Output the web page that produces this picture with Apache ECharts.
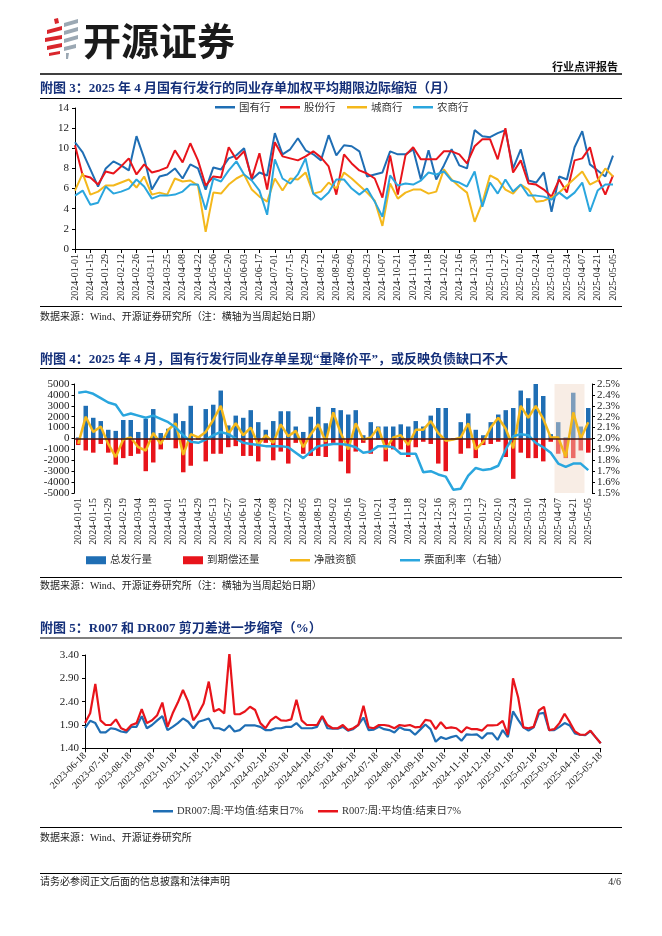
<!DOCTYPE html>
<html lang="zh-CN">
<head>
<meta charset="utf-8">
<title>chart</title>
<script src="https://cdn.jsdelivr.net/npm/echarts@6.0.0/dist/echarts.min.js"></script>
<style>
html,body{margin:0;padding:0;background:#ffffff;}
#main{width:662px;height:936px;}
</style>
</head>
<body>
<div id="main"></div>
<script>
// ================= DATA =================
// Chart 3 (附图3) weekly, start dates 2024-01-01 .. 2025-05-05
const c3Start = '2024-01-01';
const c3Count = 71;
const c3Names = ['国有行', '股份行', '城商行', '农商行'];
const c3Guoyou = [10.6,9.6,7.9,6.2,8.0,8.7,8.3,7.8,11.2,9.0, 5.9,7.2,7.4,8.0,7.0,8.4,8.0,5.9,8.1,7.9, 9.0,9.3,10.0,6.9,7.6,7.3,11.5,9.4,9.9,11.0, 9.8,9.4,8.8,11.3,9.3,10.3,10.2,9.7,7.2,7.4, 7.6,9.7,9.4,9.4,9.9,6.9,9.8,6.9,8.3,9.9, 8.3,8.0,11.8,11.2,11.1,11.5,11.8,8.0,9.9,6.8, 6.6,7.6,3.7,7.2,6.9,10.1,11.70,8.4,7.8,7.2, 9.28];
const c3Gufen = [10.3,7.3,7.1,6.4,7.7,7.5,8.2,9.0,7.4,8.4, 7.6,7.8,8.1,9.8,8.6,10.5,8.8,6.3,7.2,7.1, 10.1,8.9,9.7,7.0,9.5,5.9,10.6,9.2,9.0,8.8, 9.2,9.7,9.1,8.2,5.4,9.4,8.5,7.8,7.5,7.0, 5.1,9.3,5.4,9.3,10.1,8.9,8.9,8.9,9.7,9.7, 9.4,8.5,10.2,10.9,10.9,8.9,12.0,7.6,8.8,6.5, 6.4,5.9,5.2,6.9,5.6,8.8,9.0,10.1,7.1,5.4, 7.3];
const c3Chengshang = [5.8,7.5,5.4,5.7,6.3,6.3,6.6,6.9,6.1,7.2, 5.4,5.6,5.4,7.0,6.7,6.8,6.3,1.7,5.6,5.5, 6.4,7.0,7.4,5.9,5.2,4.7,7.0,5.8,7.0,6.9, 7.6,5.5,5.7,6.6,6.0,7.6,7.0,6.3,5.6,4.8, 2.3,6.5,5.0,5.6,5.9,5.9,5.5,5.7,7.9,6.9, 6.2,5.6,2.7,4.6,7.3,6.9,5.9,5.5,6.4,5.9, 4.7,4.8,5.1,5.6,6.3,7.0,7.7,6.4,6.8,8.0, 7.2];
const c3Nongshang = [5.3,5.8,4.4,4.6,6.2,5.5,5.7,6.0,6.9,6.2, 5.0,5.3,5.3,5.4,5.7,6.4,6.4,3.9,7.0,6.7, 7.8,8.7,7.4,6.8,5.8,3.4,8.9,7.0,6.5,7.4, 9.0,5.5,4.9,5.6,6.9,6.9,6.0,5.4,6.0,4.7, 3.2,7.3,6.3,6.5,6.4,6.8,7.6,7.4,7.7,6.8, 6.6,6.2,7.7,4.2,6.6,5.5,6.9,5.7,6.4,5.3, 5.3,5.2,4.9,5.6,5.0,5.6,6.6,3.7,5.8,6.4, 6.4];
const c3LabelIdx = [66, 70];

// Chart 4 (附图4) weekly, holiday weeks missing
const c4Start = '2024-01-01';
const c4Count = 69;
const c4Skip = ['2024-02-12', '2024-09-30'];
const c4Names = ['总发行量', '到期偿还量', '净融资额', '票面利率（右轴）'];
const c4Issue = [100,3000,1900,1600,800,700,1700,1700,600,1800, 2700,500,900,2300,1600,3000,200,2700,3100,4400, 1200,2100,1900,2600,1500,800,1600,2500,2500,1100, 600,2000,2900,1400,2800,2600,2200,2600,300,1500, 1100,1100,1100,1300,1100,1600,1100,2100,2800,2800, 0,1500,2300,800,300,1500,2200,2600,2800,4400, 3700,5000,3900,400,1500,100,4200,1100,2800];
const c4Mature = [-600,-1100,-1300,-500,-1300,-2400,-1800,-1600,-1400,-3000, -2200,-1000,-100,-900,-3100,-2500,-100,-2100,-1400,-1400, -800,-700,-1600,-1600,-2100,-400,-2000,-1200,-2300,-400, -1400,-1600,-1600,-1700,-400,-2100,-3200,-1200,-400,-1400, -100,-2100,-1000,-1000,-1700,-800,-300,-500,-2300,-3000, -100,-1400,-900,-1800,-600,-500,-300,-1700,-3700,-1300, -1800,-1800,-2100,-300,-1400,-1800,-1800,-1100,-1300];
const c4Net = [-500,2000,600,1100,-500,-1700,-100,100,-800,-1100, 500,-500,800,1400,-1500,400,100,600,1700,3000, 400,1400,300,1000,-600,300,-400,1300,200,700, -800,400,1300,-300,2400,500,-1000,1400,-100,100, 1000,-1000,100,300,-600,800,800,1600,500,-200, -100,100,1400,-1000,-300,1000,1900,900,-900,3000, 1900,3000,1800,100,100,-1700,2400,0,1500];
const c4Rate = [2.42,2.43,2.41,2.37,2.33,2.31,2.21,2.23,2.21,2.19, 2.21,2.18,2.15,2.10,2.03,1.97,1.96,1.99,2.03,2.06, 2.04,2.00,1.96,1.95,1.94,1.93,1.93,1.93,1.92,1.87, 1.82,1.88,1.93,1.94,1.95,1.95,1.94,1.92,1.87,1.88, 1.93,1.93,1.92,1.86,1.86,1.86,1.69,1.70,1.67,1.65, 1.53,1.54,1.66,1.73,1.71,1.72,1.75,1.90,2.02,2.04, 2.03,1.96,1.92,1.87,1.77,1.74,1.77,1.77,1.71];
const c4ShadeFrom = 64, c4ShadeTo = 68; // category band edges (2025-03-31 .. 2025-04-21)

// Chart 5 (附图5) weekly from 2023-06-18 to 2025-05-18
const c5Start = '2023-06-18';
const c5Months = 23;
const c5Names = ['DR007:周:平均值:结束日7%', 'R007:周:平均值:结束日7%'];
const c5DR = [1.83,1.99,1.94,1.74,1.74,1.83,1.81,1.76,1.74,1.86, 1.86,2.09,1.83,1.90,2.00,2.09,1.79,1.86,1.94,2.04, 1.97,1.83,1.97,2.00,2.04,1.83,1.83,1.78,1.89,1.76, 1.79,1.89,1.89,1.89,1.86,1.79,1.79,1.83,1.83,1.86, 1.86,1.94,1.83,1.83,1.83,1.86,2.08,1.83,1.82,1.82, 1.86,1.78, 1.81,1.90,2.06,1.79,1.80,1.86,1.81,1.79,1.74,1.85, 1.80,1.79,1.69,1.80,1.91,1.81,1.54,1.64,1.60,1.64, 1.67,1.56,1.70,1.69,1.70,1.61,1.72,1.72,1.58,1.79, 1.64,2.19,2.01,1.85,1.78,1.85,2.14,2.16,1.79,1.79, 1.86,1.94,1.89,1.72,1.69,1.68,1.77,1.64,1.51];
const c5R = [1.94,2.15,2.78,2.00,1.90,1.90,2.02,1.83,1.78,1.90, 1.94,2.24,1.94,2.00,2.11,2.38,1.86,2.15,2.38,2.65, 2.40,2.00,2.15,2.36,2.83,2.19,2.24,2.15,3.44,2.13, 2.13,2.19,2.29,2.22,1.94,1.83,2.00,2.08,2.00,1.99, 2.02,2.44,2.00,1.90,1.90,1.90,2.09,1.90,1.83,1.83, 1.90,1.79, 1.83,1.90,2.31,1.85,1.83,1.90,1.90,1.88,1.83,1.90, 1.88,1.90,1.85,1.86,2.01,1.99,1.81,1.96,1.83,1.85, 1.83,1.74,1.85,1.81,1.81,1.78,1.89,1.89,1.90,1.99, 1.69,2.90,2.49,1.85,1.83,1.86,2.21,2.29,1.79,1.81, 1.94,2.14,1.96,1.76,1.69,1.69,1.78,1.64,1.51];

// ================= HELPERS =================
const DAY = 86400000;
function fmt(t) {
  const d = new Date(t);
  return d.getUTCFullYear() + '-' + String(d.getUTCMonth() + 1).padStart(2, '0') + '-' + String(d.getUTCDate()).padStart(2, '0');
}
function weekly(start, n, skip) {
  const out = []; let t = Date.parse(start + 'T00:00:00Z');
  while (out.length < n) { const s = fmt(t); if (!skip.includes(s)) out.push(s); t += 7 * DAY; }
  return out;
}
const c3Dates = weekly(c3Start, c3Count, []);
const c4Dates = weekly(c4Start, c4Count, c4Skip);
const c5T0 = Date.parse(c5Start + 'T00:00:00Z');
const c5Dates = weekly(c5Start, c5DR.length, []);
const c5X = c5Dates.map(s => (Date.parse(s + 'T00:00:00Z') - c5T0) / DAY);
const c5MonthTicks = [];
for (let m = 0; m <= c5Months; m++) c5MonthTicks.push((Date.UTC(2023, 5 + m, 18) - c5T0) / DAY);

const SERIF = '"Liberation Serif","Times New Roman","Noto Sans CJK SC",serif';
const CJK = '"Noto Sans CJK SC",sans-serif';
const TITLE_FONT = 'bold 13px "Liberation Serif","Noto Sans CJK SC",serif';
const NAVY = '#15307a';

const BLUE = '#1F6EB4', RED = '#E8141B', YEL = '#F4B81C', LBLUE = '#2AA6DE';

// ================= GRAPHICS (page furniture) =================
function poly(pts, fill) { return { type: 'polygon', shape: { points: pts }, style: { fill: fill }, silent: true }; }
function hline(y, x1, x2, w) { return { type: 'line', shape: { x1: x1, y1: y, x2: x2, y2: y }, style: { stroke: '#000', lineWidth: w || 1 }, silent: true }; }
function txt(x, y, s, font, fill, align) {
  return { type: 'text', x: x, y: y, silent: true, style: { text: s, font: font, fill: fill || '#222', align: align || 'left', verticalAlign: 'middle', textAlign: align || 'left', textVerticalAlign: 'middle' } };
}
const graphics = [
  // logo icon
  poly([[54,19],[58,18],[59,23],[55,24]], '#D9262C'),
  poly([[47,30],[62,26],[62,30],[47,34]], '#D9262C'),
  poly([[45,38],[62,35],[62,39],[45,42]], '#D9262C'),
  poly([[47,46],[62,43],[62,47],[47,50]], '#D9262C'),
  poly([[49,53],[60,51],[60,54],[49,56]], '#D9262C'),
  poly([[64,23],[78,19],[78,23],[64,27]], '#9BA8B3'),
  poly([[64,31],[78,27],[78,31],[64,35]], '#9BA8B3'),
  poly([[64,39],[78,35],[78,39],[64,43]], '#9BA8B3'),
  poly([[64,47],[76,44],[76,48],[64,51]], '#9BA8B3'),
  poly([[66,53],[69,53],[68,59],[66,59]], '#9BA8B3'),
  txt(83, 41, '开源证券', 'bold 38px "Noto Sans CJK SC",sans-serif', '#1a1a1a'),
  txt(618, 67, '行业点评报告', 'bold 11px "Noto Sans CJK SC",sans-serif', '#111', 'right'),
  hline(74, 40, 622, 1.5),
  // chart 3 titles
  txt(40, 89, '附图 3：2025 年 4 月国有行发行的同业存单加权平均期限边际缩短（月）', TITLE_FONT, NAVY),
  hline(98.5, 40, 622, 1.2),
  hline(306.5, 40, 622, 1.2),
  txt(40, 317, '数据来源：Wind、开源证券研究所（注：横轴为当周起始日期）', '10px ' + SERIF, '#222'),
  // chart 4 titles
  txt(40, 360, '附图 4：2025 年 4 月，国有行发行同业存单呈现“量降价平”，或反映负债缺口不大', TITLE_FONT, NAVY),
  hline(368.5, 40, 622, 1.2),
  hline(577.5, 40, 622, 1.2),
  txt(40, 586, '数据来源：Wind、开源证券研究所（注：横轴为当周起始日期）', '10px ' + SERIF, '#222'),
  // chart 5 titles
  txt(40, 629, '附图 5：R007 和 DR007 剪刀差进一步缩窄（%）', TITLE_FONT, NAVY),
  hline(638, 40, 622, 1.2),
  hline(827.5, 40, 622, 1.2),
  txt(40, 838, '数据来源：Wind、开源证券研究所', '10px ' + SERIF, '#222'),
  // footer
  hline(873.5, 40, 622, 1.2),
  txt(40, 882, '请务必参阅正文后面的信息披露和法律声明', '10px ' + SERIF, '#222'),
  txt(621, 882, '4/6', '10px ' + SERIF, '#222', 'right')
];

// ================= OPTION =================
const axisLineBlack = { show: true, lineStyle: { color: '#000', width: 1 } };
const tickBlack = { show: true, length: 3, lineStyle: { color: '#000' } };
const lblSerif = (sz) => ({ fontFamily: SERIF, fontSize: sz, color: '#222' });

function legendItem(name, left, top, icon, w, h, fam) {
  return { data: [name], left: left, top: top, icon: icon, itemWidth: w, itemHeight: h, itemGap: 0, padding: 0,
    textStyle: { fontFamily: fam || CJK, fontSize: 10.5, color: '#333', padding: [0, 0, 0, -1] }, selectedMode: false };
}

const c3Series = [c3Guoyou, c3Gufen, c3Chengshang, c3Nongshang].map((arr, k) => ({
  name: c3Names[k], type: 'line', xAxisIndex: 0, yAxisIndex: 0, symbol: 'none',
  lineStyle: { width: 2, color: [BLUE, RED, YEL, LBLUE][k] }, itemStyle: { color: [BLUE, RED, YEL, LBLUE][k] },
  data: arr.map((v, i) => k === 0 && c3LabelIdx.includes(i)
    ? { value: v, label: { show: true, position: 'top', formatter: p => p.value.toFixed(2), fontFamily: '"Liberation Sans",sans-serif', fontSize: 11.5, color: '#111', offset: i === 66 ? [0, -4] : [-6, -3] } }
    : v)
}));

const option = {
  animation: false,
  backgroundColor: '#ffffff',
  textStyle: { fontFamily: SERIF },
  graphic: { elements: graphics },
  grid: [
    { left: 75, top: 108, width: 538, height: 141, containLabel: false, outerBoundsMode: 'none' },
    { left: 74.5, top: 384, width: 517.5, height: 109, containLabel: false, outerBoundsMode: 'none' },
    { left: 85, top: 655, width: 515.7, height: 93.3, containLabel: false, outerBoundsMode: 'none' }
  ],
  legend: [
    legendItem(c3Names[0], 215, 102, 'rect', 20, 2.5),
    legendItem(c3Names[1], 280, 102, 'rect', 20, 2.5),
    legendItem(c3Names[2], 347, 102, 'rect', 20, 2.5),
    legendItem(c3Names[3], 413, 102, 'rect', 20, 2.5),
    legendItem(c4Names[0], 86, 555, 'rect', 20, 8, SERIF),
    legendItem(c4Names[1], 183, 555, 'rect', 20, 8, SERIF),
    legendItem(c4Names[2], 290, 555, 'rect', 20, 2.5, SERIF),
    legendItem(c4Names[3], 400, 555, 'rect', 20, 2.5, SERIF),
    legendItem(c5Names[0], 153, 806, 'rect', 20, 2.5, SERIF),
    legendItem(c5Names[1], 318, 806, 'rect', 20, 2.5, SERIF)
  ],
  xAxis: [
    { type: 'category', gridIndex: 0, data: c3Dates, boundaryGap: false,
      axisLine: axisLineBlack, axisTick: { show: true, interval: 1, length: 4, lineStyle: { color: '#000' } },
      axisLabel: Object.assign({ interval: 1, rotate: 90, margin: 5 }, lblSerif(10)), splitLine: { show: false } },
    { type: 'category', gridIndex: 1, data: c4Dates, boundaryGap: true,
      axisLine: { show: false, onZero: false }, axisTick: { show: false },
      axisLabel: Object.assign({ interval: 1, rotate: 90, margin: 5 }, lblSerif(10)), splitLine: { show: false } },
    { type: 'value', gridIndex: 2, min: 0, max: c5MonthTicks[c5MonthTicks.length - 1],
      axisLine: axisLineBlack,
      axisTick: { show: true, length: 4, customValues: c5MonthTicks, lineStyle: { color: '#000' } },
      axisLabel: Object.assign({ rotate: 45, margin: 6, customValues: c5MonthTicks, formatter: v => fmt(c5T0 + v * DAY) }, lblSerif(10)),
      splitLine: { show: false } },
    { type: 'value', gridIndex: 1, min: 0, max: c4Count, show: false }
  ],
  yAxis: [
    { type: 'value', gridIndex: 0, min: 0, max: 14, interval: 2, axisLine: axisLineBlack, axisTick: tickBlack,
      axisLabel: Object.assign({ margin: 6, formatter: v => String(v) }, lblSerif(11)), splitLine: { show: false } },
    { type: 'value', gridIndex: 1, min: -5000, max: 5000, interval: 1000, axisLine: axisLineBlack, axisTick: tickBlack,
      axisLabel: Object.assign({ margin: 5, formatter: v => String(Math.round(v)) }, lblSerif(11)), splitLine: { show: false } },
    { type: 'value', gridIndex: 1, position: 'right', min: 1.5, max: 2.5, interval: 0.1, axisLine: axisLineBlack, axisTick: tickBlack,
      axisLabel: Object.assign({ margin: 5, formatter: v => v.toFixed(1) + '%' }, lblSerif(11)), splitLine: { show: false } },
    { type: 'value', gridIndex: 2, min: 1.4, max: 3.4, interval: 0.5, axisLine: axisLineBlack, axisTick: tickBlack,
      axisLabel: Object.assign({ margin: 6, formatter: v => v.toFixed(2) }, lblSerif(11)), splitLine: { show: false } }
  ],
  series: c3Series.concat([
    { name: c4Names[0], type: 'bar', xAxisIndex: 1, yAxisIndex: 1, data: c4Issue, barWidth: 4.5, barGap: '-100%',
      itemStyle: { color: BLUE }, z: 2,
      markLine: { silent: true, symbol: 'none', label: { show: false }, data: [{ yAxis: 0 }],
        lineStyle: { color: '#3a1414', width: 1.5, type: 'solid' } } },
    { name: c4Names[1], type: 'bar', xAxisIndex: 1, yAxisIndex: 1, data: c4Mature, barWidth: 4.5, barGap: '-100%',
      itemStyle: { color: RED }, z: 2 },
    { name: 'shade', type: 'line', xAxisIndex: 3, yAxisIndex: 1, data: [], z: 3,
      markArea: { z: 3, silent: true, itemStyle: { color: 'rgba(240,214,198,0.45)' },
        data: [[{ xAxis: c4ShadeFrom }, { xAxis: c4ShadeTo }]] } },
    { name: c4Names[2], type: 'line', xAxisIndex: 1, yAxisIndex: 1, data: c4Net, symbol: 'none', z: 4,
      lineStyle: { width: 2.5, color: YEL }, itemStyle: { color: YEL } },
    { name: c4Names[3], type: 'line', xAxisIndex: 1, yAxisIndex: 2, data: c4Rate, symbol: 'none', z: 4,
      lineStyle: { width: 2.5, color: LBLUE }, itemStyle: { color: LBLUE } },
    { name: c5Names[0], type: 'line', xAxisIndex: 2, yAxisIndex: 3, data: c5DR.map((v, i) => [c5X[i], v]), symbol: 'none',
      lineStyle: { width: 2.2, color: BLUE }, itemStyle: { color: BLUE } },
    { name: c5Names[1], type: 'line', xAxisIndex: 2, yAxisIndex: 3, data: c5R.map((v, i) => [c5X[i], v]), symbol: 'none',
      lineStyle: { width: 2.2, color: RED }, itemStyle: { color: RED } }
  ])
};

const chart = echarts.init(document.getElementById('main'), null, { renderer: 'canvas', width: 662, height: 936 });
chart.setOption(option);
</script>
</body>
</html>
